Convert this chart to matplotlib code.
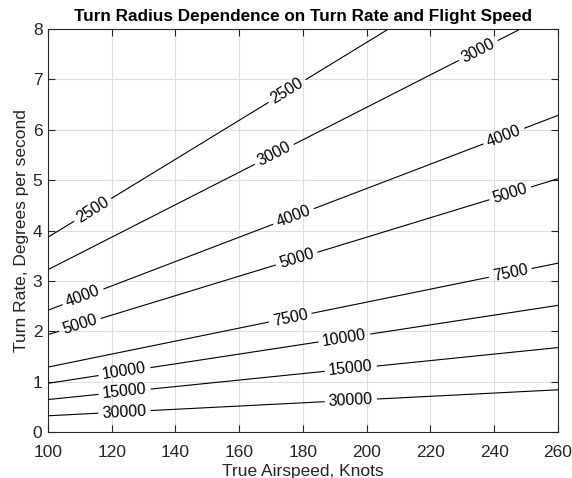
import numpy as np
import matplotlib
matplotlib.use("Agg")
import matplotlib.pyplot as plt

plt.rcParams['font.family'] = ['Liberation Sans', 'DejaVu Sans']

# chart values
speed_range = [100, 260]          # knots
rate_range = [0, 8]               # deg/s
radius_levels = [2500, 3000, 4000, 5000, 7500, 10000, 15000, 30000]  # feet
KT_TO_FPS = 1.68781
x_ticks = np.arange(100, 261, 20)
y_ticks = np.arange(0, 9, 1)

# contour labels: (radius level, airspeed where the label sits)
label_at = [(2500, 114), (2500, 175),
            (3000, 171), (3000, 235),
            (4000, 111), (4000, 177), (4000, 243),
            (5000, 110), (5000, 178), (5000, 245),
            (7500, 176), (7500, 245),
            (10000, 124), (10000, 193),
            (15000, 124), (15000, 195),
            (30000, 124), (30000, 195)]


def turn_rate(speed, radius):
    return np.rad2deg(speed * KT_TO_FPS / radius)


V = np.linspace(speed_range[0], speed_range[1], 400)
W = np.linspace(0.05, rate_range[1], 800)
VV, WW = np.meshgrid(V, W)
R = VV * KT_TO_FPS / np.deg2rad(WW)

fig = plt.figure(figsize=(5.72, 4.78), dpi=100)
ax = fig.add_axes([0.0839, 0.0962, 0.8916, 0.843])
cs = ax.contour(VV, WW, R, levels=radius_levels, colors='k', linewidths=0.8)
spots = [(v, turn_rate(v, r)) for r, v in label_at]
ax.clabel(cs, fmt='%d', fontsize=11.5, inline=True, inline_spacing=4,
          manual=spots)

ax.set_xlim(speed_range)
ax.set_ylim(rate_range)
ax.set_xticks(x_ticks)
ax.set_yticks(y_ticks)
ax.grid(True, color='#dedede', linewidth=0.8)
ax.set_axisbelow(True)
for s in ax.spines.values():
    s.set_color('#262626')
ax.tick_params(direction='in', top=True, right=True, labelsize=12.5, length=5,
               colors='#262626')
ax.tick_params(axis='x', pad=9)
ax.tick_params(axis='y', pad=4)
ax.set_xlabel('True Airspeed, Knots', fontsize=12.5, color='#262626', labelpad=3.5)
ax.set_ylabel('Turn Rate, Degrees per second', fontsize=12.5, color='#262626',
              labelpad=2.5)
ax.set_title('Turn Radius Dependence on Turn Rate and Flight Speed',
             fontsize=12.3, fontweight='bold', pad=6)

fig.savefig('out.png', dpi=100)
